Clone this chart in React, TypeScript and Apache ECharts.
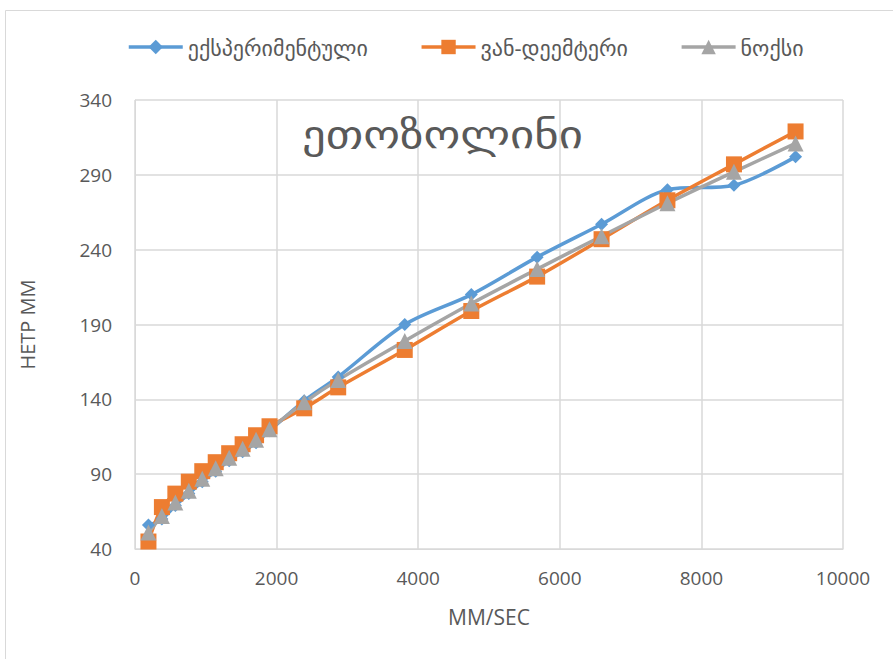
import React, { useEffect, useRef } from "react";
import * as echarts from "echarts";

const titleText = "ეთოზოლინი";
const seriesNames = ["ექსპერიმენტული", "ვან-დეემტერი", "ნოქსი"];
const xValues = [190, 380, 570, 760, 950, 1140, 1330, 1520, 1710, 1900, 2390, 2870, 3810, 4750, 5680, 6590, 7520, 8460, 9330];
const experimental = [56, 60, 69, 77, 85, 92, 99, 105, 111, 119, 139, 155, 190, 210, 235, 257, 280, 283, 302];
const vanDeemter = [45, 68, 77, 85, 92, 98, 104, 110, 116, 122, 134, 148, 173, 199, 222, 247, 273, 297, 319];
const knox = [51, 62, 71, 79, 87, 94, 101, 107, 113, 120, 138, 153, 179, 204, 227, 249, 271, 292, 311];
const yAxisName = "HETP MM";
const xAxisName = "MM/SEC";

const FONT = "'Open Sans', 'DejaVu Sans', sans-serif";
const TEXT = "#595959";
const GRID = "#d9d9d9";

function pairs(ys: number[]) {
  return ys.map((y, i) => [xValues[i], y]);
}

export default function App() {
  const ref = useRef<HTMLDivElement>(null);
  useEffect(() => {
    if (!ref.current) return;
    const chart = echarts.init(ref.current, undefined, { renderer: "svg" });
    const mk = (name: string, data: number[], color: string, symbol: string, size: number) => ({
      name,
      type: "line",
      data: pairs(data),
      smooth: 0.3,
      symbol,
      symbolSize: size,
      lineStyle: { color, width: 3.5 },
      itemStyle: { color },
      emphasis: { disabled: true },
    });
    chart.setOption({
      animation: false,
      backgroundColor: "#fff",
      textStyle: { fontFamily: FONT },
      graphic: [
        {
          type: "rect",
          shape: { x: 5.5, y: 10.5, width: 900, height: 660 },
          style: { fill: "none", stroke: GRID, lineWidth: 1 },
          silent: true,
        },
        {
          type: "text",
          x: 302,
          y: 114,
          scaleX: 1.2,
          z: 10,
          style: { text: titleText, fill: TEXT, font: `39px ${FONT}` },
        },
      ],
      legend: {
        top: 36,
        left: 127,
        padding: 0,
        itemWidth: 54,
        itemHeight: 18,
        itemGap: 52,
        lineStyle: { width: 3.5 },
        textStyle: { color: TEXT, fontSize: 22, fontFamily: FONT },
        data: seriesNames,
      },
      grid: { left: 135, right: 50, top: 100, bottom: 110 },
      xAxis: {
        type: "value",
        min: 0,
        max: 10000,
        interval: 2000,
        name: xAxisName,
        nameLocation: "middle",
        nameGap: 57,
        nameTextStyle: { color: TEXT, fontSize: 21, fontFamily: FONT },
        axisLine: { show: true, lineStyle: { color: GRID } },
        axisTick: { show: false },
        axisLabel: { color: TEXT, fontSize: 19, margin: 19, fontFamily: FONT, formatter: (v: number) => String(v) },
        splitLine: { show: true, lineStyle: { color: GRID, width: 1.5 } },
      },
      yAxis: {
        type: "value",
        min: 40,
        max: 340,
        interval: 50,
        name: yAxisName,
        nameLocation: "middle",
        nameGap: 98,
        nameRotate: 90,
        nameTextStyle: { color: TEXT, fontSize: 20, fontFamily: FONT },
        axisLine: { show: true, lineStyle: { color: GRID } },
        axisTick: { show: false },
        axisLabel: { color: TEXT, fontSize: 19, margin: 23, fontFamily: FONT },
        splitLine: { show: true, lineStyle: { color: GRID, width: 1.5 } },
      },
      series: [
        mk(seriesNames[0], experimental, "#5B9BD5", "diamond", 13),
        mk(seriesNames[1], vanDeemter, "#ED7D31", "rect", 16),
        mk(seriesNames[2], knox, "#A5A5A5", "triangle", 16),
      ],
    });
    return () => chart.dispose();
  }, []);
  return (
    <div
      ref={ref}
      style={{ position: "fixed", left: 0, top: 0, width: 893, height: 659 }}
    />
  );
}
